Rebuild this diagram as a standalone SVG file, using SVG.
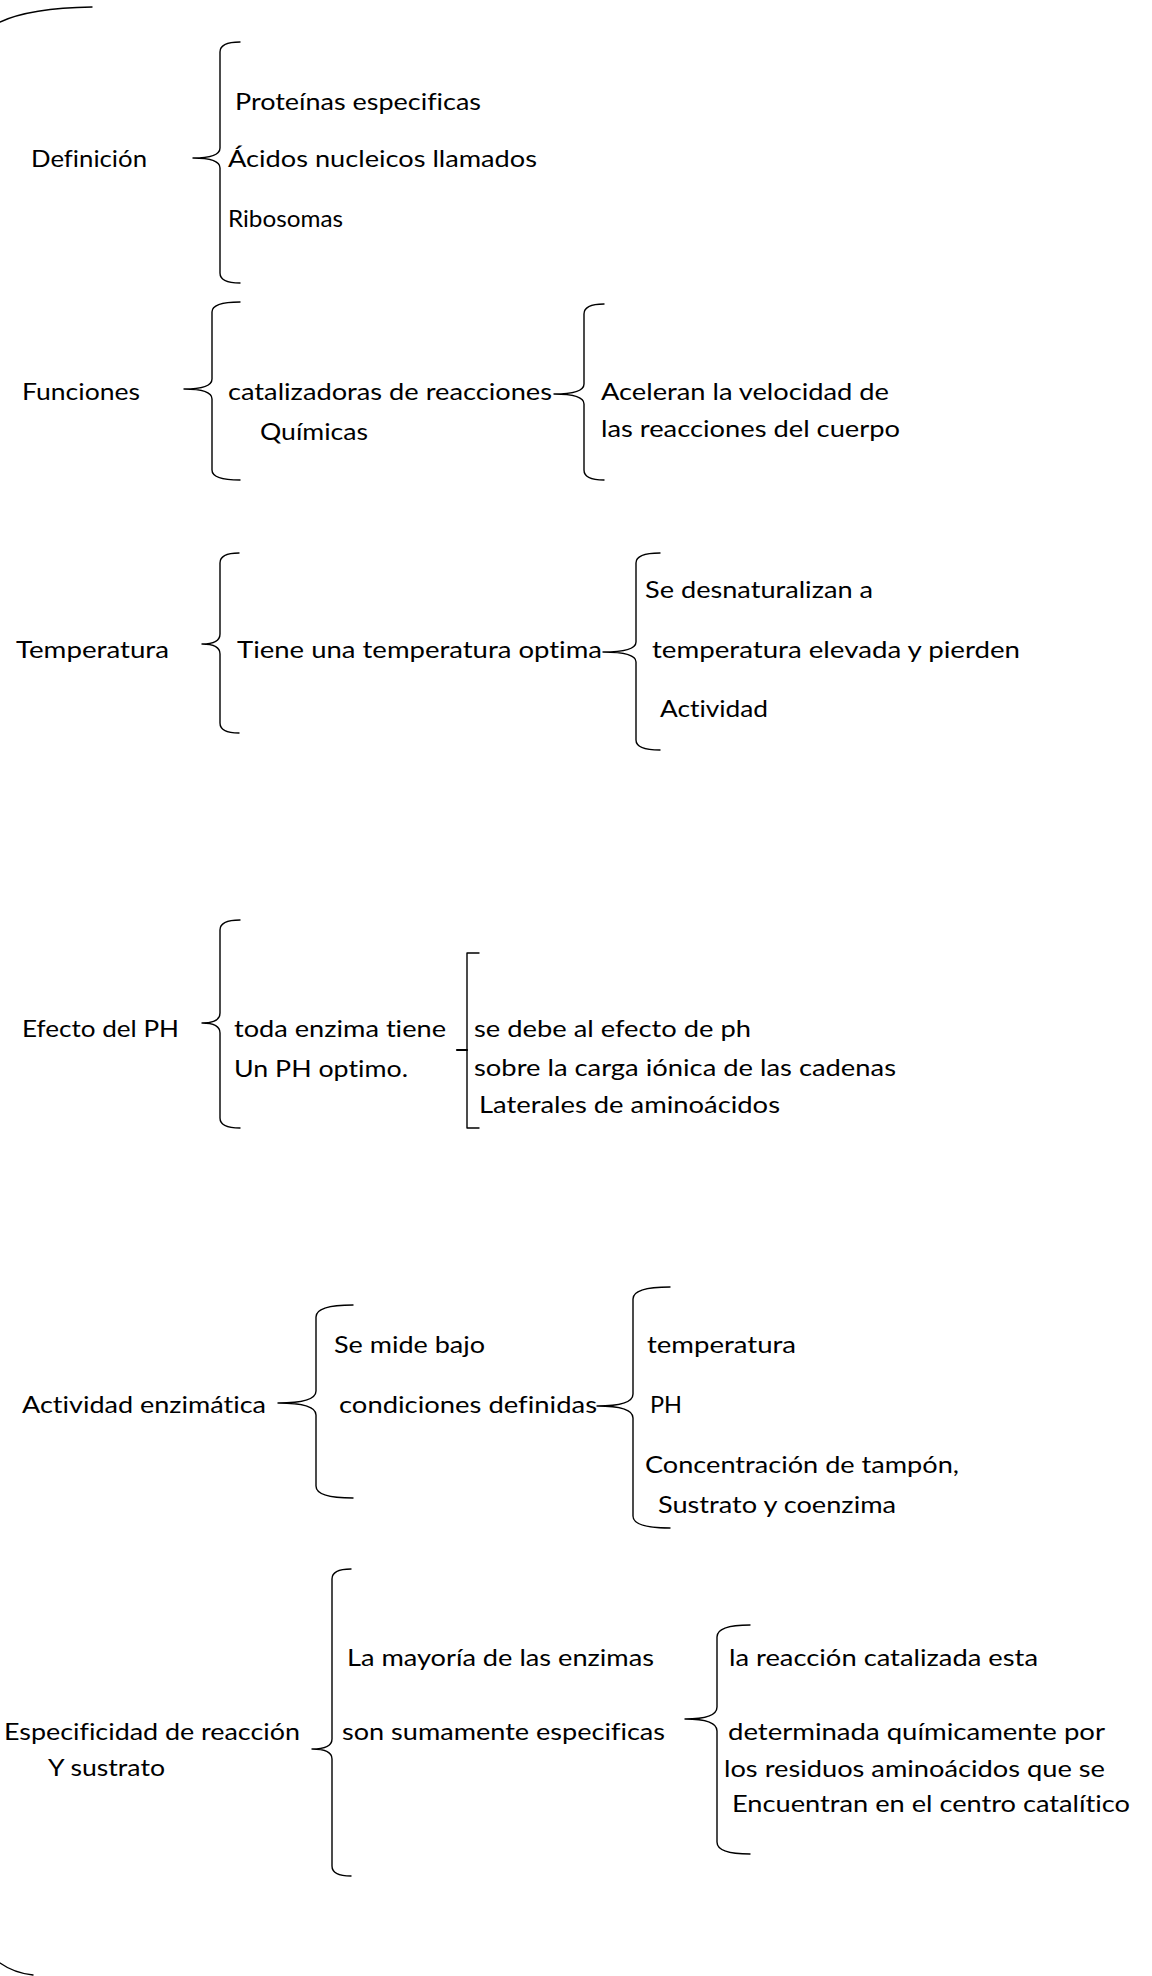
<svg xmlns="http://www.w3.org/2000/svg" width="1152" height="1976" viewBox="0 0 1152 1976">
<style>
text{font-family:Lato,"Open Sans","Liberation Sans",sans-serif;font-size:24px;fill:#000;font-variant-ligatures:none}
.b{fill:none;stroke:#000;stroke-width:1.4;stroke-linecap:round;stroke-linejoin:round}
</style>
<rect width="1152" height="1976" fill="#fff"/>
<g id="connectors">
<path class="b" d="M0,22 Q30,8 92,7"/>
<path class="b" d="M0,1963 Q14,1973 33,1975"/>
<path class="b" d="M240,42 Q220,42 220,52 L220,148 Q220,158 193,158 Q220,158 220,168 L220,273 Q220,283 240,283"/>
<path class="b" d="M240,302 Q212,302 212,312 L212,379 Q212,389 184,389 Q212,389 212,399 L212,470 Q212,480 240,480"/>
<path class="b" d="M604,304 Q584,304 584,314 L584,384 Q584,394 554,394 Q584,394 584,404 L584,470 Q584,480 604,480"/>
<path class="b" d="M239,553 Q220,553 220,563 L220,634 Q220,644 202,644 Q220,644 220,654 L220,723 Q220,733 239,733"/>
<path class="b" d="M660,553 Q636,553 636,563 L636,642 Q636,652 603,652 Q636,652 636,662 L636,740 Q636,750 660,750"/>
<path class="b" d="M240,920 Q220,920 220,930 L220,1013 Q220,1023 202,1023 Q220,1023 220,1033 L220,1118 Q220,1128 240,1128"/>
<path class="b" d="M479,953 L467,953 L467,1128 L479,1128"/>
<path class="b" d="M457,1050 L467,1050" style="stroke-width:2.2"/>
<path class="b" d="M353,1305 Q316,1305 316,1317 L316,1391 Q316,1403 278,1403 Q316,1403 316,1415 L316,1486 Q316,1498 353,1498"/>
<path class="b" d="M670,1287 Q633,1287 633,1299 L633,1394 Q633,1406 597,1406 Q633,1406 633,1418 L633,1516 Q633,1528 670,1528"/>
<path class="b" d="M351,1569 Q332,1569 332,1579 L332,1739 Q332,1749 312,1749 Q332,1749 332,1759 L332,1866 Q332,1876 351,1876"/>
<path class="b" d="M750,1625 Q717,1625 717,1637 L717,1707 Q717,1719 685,1719 Q717,1719 717,1731 L717,1842 Q717,1854 750,1854"/>
</g>
<g id="n-definicion">
<text x="31" y="167" textLength="116" lengthAdjust="spacingAndGlyphs">Definición</text>
<text x="235" y="110" textLength="246" lengthAdjust="spacingAndGlyphs">Proteínas especificas</text>
<text x="228" y="167" textLength="309" lengthAdjust="spacingAndGlyphs">Ácidos nucleicos llamados</text>
<text x="228" y="227" textLength="115" lengthAdjust="spacingAndGlyphs">Ribosomas</text>
</g>
<g id="n-funciones">
<text x="22" y="400" textLength="118" lengthAdjust="spacingAndGlyphs">Funciones</text>
<text x="228" y="400" textLength="324" lengthAdjust="spacingAndGlyphs">catalizadoras de reacciones</text>
<text x="260" y="440" textLength="108" lengthAdjust="spacingAndGlyphs">Químicas</text>
<text x="601" y="400" textLength="288" lengthAdjust="spacingAndGlyphs">Aceleran la velocidad de</text>
<text x="601" y="437" textLength="299" lengthAdjust="spacingAndGlyphs">las reacciones del cuerpo</text>
</g>
<g id="n-temperatura">
<text x="16" y="658" textLength="153" lengthAdjust="spacingAndGlyphs">Temperatura</text>
<text x="237" y="658" textLength="365" lengthAdjust="spacingAndGlyphs">Tiene una temperatura optima</text>
<text x="645" y="598" textLength="228" lengthAdjust="spacingAndGlyphs">Se desnaturalizan a</text>
<text x="652" y="658" textLength="368" lengthAdjust="spacingAndGlyphs">temperatura elevada y pierden</text>
<text x="660" y="717" textLength="108" lengthAdjust="spacingAndGlyphs">Actividad</text>
</g>
<g id="n-ph">
<text x="22" y="1037" textLength="157" lengthAdjust="spacingAndGlyphs">Efecto del PH</text>
<text x="234" y="1037" textLength="212" lengthAdjust="spacingAndGlyphs">toda enzima tiene</text>
<text x="234" y="1077" textLength="174" lengthAdjust="spacingAndGlyphs">Un PH optimo.</text>
<text x="474" y="1037" textLength="277" lengthAdjust="spacingAndGlyphs">se debe al efecto de ph</text>
<text x="474" y="1076" textLength="422" lengthAdjust="spacingAndGlyphs">sobre la carga iónica de las cadenas</text>
<text x="479" y="1113" textLength="301" lengthAdjust="spacingAndGlyphs">Laterales de aminoácidos</text>
</g>
<g id="n-actividad">
<text x="22" y="1413" textLength="244" lengthAdjust="spacingAndGlyphs">Actividad enzimática</text>
<text x="334" y="1353" textLength="151" lengthAdjust="spacingAndGlyphs">Se mide bajo</text>
<text x="339" y="1413" textLength="258" lengthAdjust="spacingAndGlyphs">condiciones definidas</text>
<text x="647" y="1353" textLength="149" lengthAdjust="spacingAndGlyphs">temperatura</text>
<text x="650" y="1413" textLength="32" lengthAdjust="spacingAndGlyphs">PH</text>
<text x="645" y="1473" textLength="314" lengthAdjust="spacingAndGlyphs">Concentración de tampón,</text>
<text x="658" y="1513" textLength="238" lengthAdjust="spacingAndGlyphs">Sustrato y coenzima</text>
</g>
<g id="n-especificidad">
<text x="4" y="1740" textLength="296" lengthAdjust="spacingAndGlyphs">Especificidad de reacción</text>
<text x="48" y="1776" textLength="117" lengthAdjust="spacingAndGlyphs">Y sustrato</text>
<text x="347" y="1666" textLength="307" lengthAdjust="spacingAndGlyphs">La mayoría de las enzimas</text>
<text x="342" y="1740" textLength="323" lengthAdjust="spacingAndGlyphs">son sumamente especificas</text>
<text x="729" y="1666" textLength="309" lengthAdjust="spacingAndGlyphs">la reacción catalizada esta</text>
<text x="728" y="1740" textLength="377" lengthAdjust="spacingAndGlyphs">determinada químicamente por</text>
<text x="724" y="1777" textLength="381" lengthAdjust="spacingAndGlyphs">los residuos aminoácidos que se</text>
<text x="732" y="1812" textLength="398" lengthAdjust="spacingAndGlyphs">Encuentran en el centro catalítico</text>
</g>
</svg>
